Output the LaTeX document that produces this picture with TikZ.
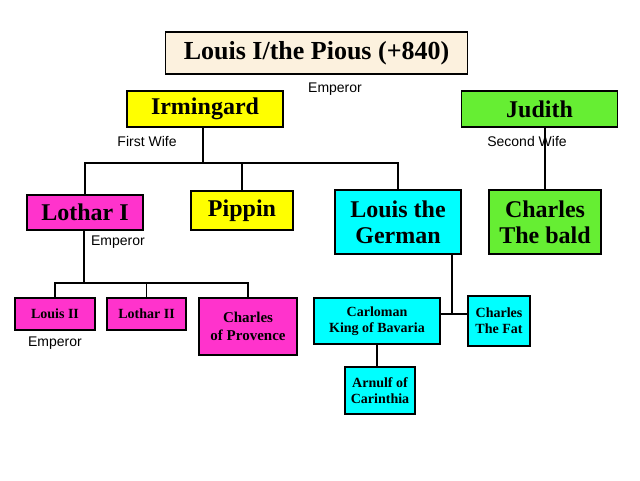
\documentclass[tikz,border=0pt]{standalone}
\usepackage{fontspec}
\setmainfont{Liberation Serif}
\setsansfont{Liberation Sans}
\usetikzlibrary{calc}
\definecolor{cream}{HTML}{FCF1DE}
\definecolor{yel}{HTML}{FFFF00}
\definecolor{grn}{HTML}{66EE33}
\definecolor{mag}{HTML}{FF33CC}
\definecolor{cyn}{HTML}{00FFFF}
\tikzset{
  person/.style={draw, line width=0.8pt, inner sep=1pt, align=center, font=\bfseries},
  note/.style={font=\sffamily\fontsize{7}{8}\selectfont}
}
\begin{document}
\begin{tikzpicture}[x=0.5pt,y=-0.5pt,line width=0.8pt]
    \useasboundingbox (0,0) rectangle (640,480);
    % top generation
    \node[person, fill=cream, minimum width=151pt, minimum height=21pt, font=\bfseries\fontsize{13}{14}\selectfont] (louisi) at (316.5,53) {Louis I/the Pious (+840)};
    \node[note] (emp0) at (335,89) {Emperor};
    \node[person, fill=yel, minimum width=78pt, minimum height=18pt, font=\bfseries\fontsize{12}{13}\selectfont] (irm) at (205,109) {Irmingard};
    \node[person, fill=grn, minimum width=78pt, minimum height=18pt, font=\bfseries\fontsize{12}{13}\selectfont] (jud) at (539.5,109) {Judith};
    \node[note] (wife1) at (147,141) {First Wife};
    \node[note] (wife2) at (527,141) {Second Wife};
    % children
    \node[person, fill=mag, minimum width=58pt, minimum height=17.5pt, font=\bfseries\fontsize{12}{13}\selectfont] (lothar) at (85,212.5) {Lothar I};
    \node[person, fill=yel, minimum width=51pt, minimum height=19.5pt, font=\bfseries\fontsize{12}{13}\selectfont] (pippin) at (242,210.5) {Pippin};
    \node[person, fill=cyn, minimum width=63pt, minimum height=32pt, font=\bfseries\fontsize{12}{13}\selectfont] (german) at (398,222) {Louis the\\German};
    \node[person, fill=grn, minimum width=56pt, minimum height=32pt, font=\bfseries\fontsize{12}{13}\selectfont] (bald) at (545,222) {Charles\\The bald};
    \node[note] (emp1) at (118,242) {Emperor};
    % grandchildren
    \node[person, fill=mag, minimum width=40pt, minimum height=16pt, font=\bfseries\fontsize{7}{8}\selectfont] (louisii) at (55,314) {Louis II};
    \node[person, fill=mag, minimum width=39.5pt, minimum height=16pt, font=\bfseries\fontsize{7}{8}\selectfont] (lotharii) at (146.5,314) {Lothar II};
    \node[person, fill=mag, minimum width=49pt, minimum height=28.5pt, font=\bfseries\fontsize{7.5}{9}\selectfont] (provence) at (248,326.5) {Charles\\of Provence};
    \node[note] (emp2) at (55,343) {Emperor};
    \node[person, fill=cyn, minimum width=63pt, minimum height=23pt, font=\bfseries\fontsize{7}{8}\selectfont] (carloman) at (377,321) {Carloman\\King of Bavaria};
    \node[person, fill=cyn, minimum width=31pt, minimum height=25pt, font=\bfseries\fontsize{7}{8}\selectfont] (fat) at (499,321) {Charles\\The Fat};
    \node[person, fill=cyn, minimum width=35pt, minimum height=23.5pt, font=\bfseries\fontsize{7}{8}\selectfont] (arnulf) at (380,390.5) {Arnulf of\\Carinthia};
    % lines
    \coordinate (j1) at (203,163);
    \draw (irm.south -| j1) -- (j1);
    \draw (lothar.north) |- (j1) -| (german.north);
    \draw (pippin.north) -- (pippin.north |- j1);
    \draw (jud.south -| bald.north) -- (bald.north);
    \coordinate (j2) at (84,283);
    \draw (lothar.south -| j2) -- (j2);
    \draw (louisii.north) |- (j2) -| (provence.north);
    \draw (lotharii.north) -- (lotharii.north |- j2);
    \coordinate (j3) at (452,314);
    \draw (german.south -| j3) -- (j3);
    \draw (carloman.east |- j3) -- (fat.west |- j3);
    \draw (carloman.south) -- (arnulf.north -| carloman.south);
\end{tikzpicture}
\end{document}
